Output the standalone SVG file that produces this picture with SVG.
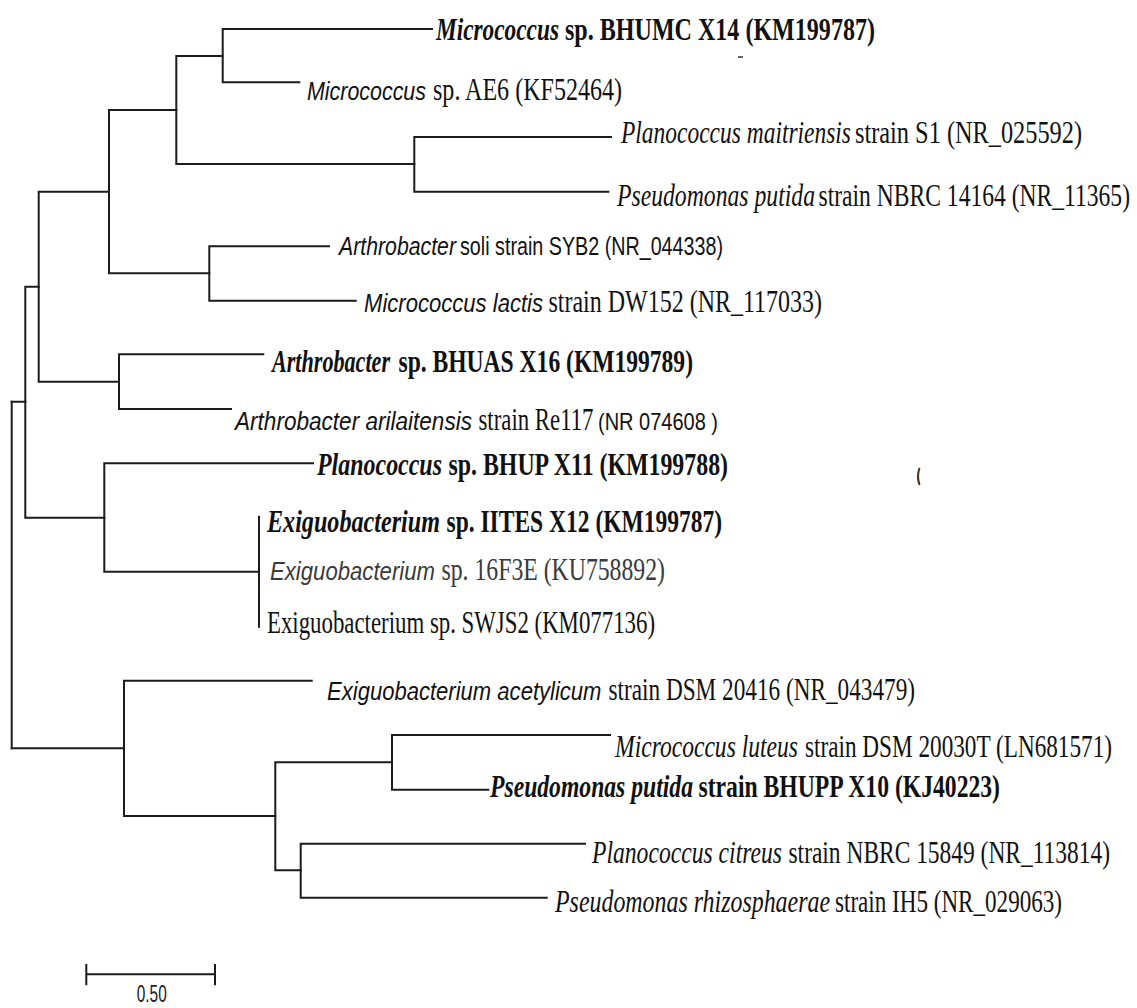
<svg xmlns="http://www.w3.org/2000/svg" width="1137" height="1008" viewBox="0 0 1137 1008" xml:space="preserve">
<style>
.br{fill:none;stroke:#1c1c1c;stroke-width:2;stroke-linecap:square}
.t{font-family:"Liberation Serif","Times New Roman",serif;font-size:24px;fill:#111}
.b{font-weight:bold}
.i{font-style:italic}
.s{font-family:"Liberation Sans",Arial,sans-serif;font-size:19.5px}
.sm{font-family:"Liberation Sans",Arial,sans-serif;font-size:17.5px}
.g{fill:#3a3a3a}
.sb{font-family:"Liberation Sans",Arial,sans-serif;font-size:18px;fill:#222}
</style>
<rect width="1137" height="1008" fill="#ffffff"/>
<g id="connectors">
<path class="br" d="M11.7 401.7 V748.3"/>
<path class="br" d="M11.7 401.7 H25.3 M11.7 748.3 H124"/>
<path class="br" d="M25.3 286.7 V517.7 M25.3 286.7 H38.7 M25.3 517.7 H104.3"/>
<path class="br" d="M38.7 191.7 V381.7 M38.7 191.7 H109 M38.7 381.7 H119"/>
<path class="br" d="M109 110 V273.3 M109 110 H176.3 M109 273.3 H209.3"/>
<path class="br" d="M176.3 56 V164 M176.3 56 H222.7 M176.3 164 H414.3"/>
<path class="br" d="M222.7 29 V82.3 M222.7 29 H432 M222.7 82.3 H299.3"/>
<path class="br" d="M414.3 137 V191.7 M414.3 137 H611 M414.3 191.7 H608.3"/>
<path class="br" d="M209.3 246.3 V300.7 M209.3 246.3 H329 M209.3 300.7 H355.7"/>
<path class="br" d="M119 354.3 V409 M119 354.3 H263.3 M119 409 H231"/>
<path class="br" d="M104.3 463.3 V571.7 M104.3 463.3 H313 M104.3 571.7 H259"/>
<path class="br" d="M259 516.7 V626.7"/>
<path class="br" d="M124 680.7 V816 M124 680.7 H311.7 M124 816 H275.3"/>
<path class="br" d="M275.3 762.3 V870.3 M275.3 762.3 H392 M275.3 870.3 H300.7"/>
<path class="br" d="M392 735 V789.7 M392 735 H610 M392 789.7 H488.3"/>
<path class="br" d="M300.7 843.7 V897.7 M300.7 843.7 H585 M300.7 897.7 H546.7"/>
</g>
<g id="leaf-micrococcus-bhumc-x14">
<text class="t b i" transform="matrix(1 0 0 1.33 436 40)" textLength="123" lengthAdjust="spacingAndGlyphs">Micrococcus</text>
<text class="t b" transform="matrix(1 0 0 1.33 565 40)" textLength="310" lengthAdjust="spacingAndGlyphs">sp. BHUMC X14 (KM199787)</text>
</g>
<g id="leaf-micrococcus-ae6">
<text class="t s i" transform="matrix(1 0 0 1.33 307 100)" textLength="119" lengthAdjust="spacingAndGlyphs">Micrococcus</text>
<text class="t" transform="matrix(1 0 0 1.33 433 100)" textLength="189" lengthAdjust="spacingAndGlyphs">sp. AE6 (KF52464)</text>
</g>
<g id="leaf-planococcus-maitriensis">
<text class="t i" transform="matrix(1 0 0 1.33 621 143)" textLength="230" lengthAdjust="spacingAndGlyphs">Planococcus maitriensis</text>
<text class="t" transform="matrix(1 0 0 1.33 855 143)" textLength="227" lengthAdjust="spacingAndGlyphs">strain S1  (NR_025592)</text>
</g>
<g id="leaf-pseudomonas-putida-nbrc">
<text class="t i" transform="matrix(1 0 0 1.33 617 206)" textLength="198" lengthAdjust="spacingAndGlyphs">Pseudomonas putida</text>
<text class="t" transform="matrix(1 0 0 1.33 818.5 206)" textLength="311.5" lengthAdjust="spacingAndGlyphs">strain NBRC 14164 (NR_11365)</text>
</g>
<g id="leaf-arthrobacter-soli">
<text class="t s i" transform="matrix(1 0 0 1.33 339 255)" textLength="117" lengthAdjust="spacingAndGlyphs">Arthrobacter</text>
<text class="t s" transform="matrix(1 0 0 1.33 460 255)" textLength="263" lengthAdjust="spacingAndGlyphs">soli strain SYB2  (NR_044338)</text>
</g>
<g id="leaf-micrococcus-lactis">
<text class="t s i" transform="matrix(1 0 0 1.33 364 311.5)" textLength="179" lengthAdjust="spacingAndGlyphs">Micrococcus lactis</text>
<text class="t" transform="matrix(1 0 0 1.33 548.5 311.5)" textLength="273.5" lengthAdjust="spacingAndGlyphs">strain DW152  (NR_117033)</text>
</g>
<g id="leaf-arthrobacter-bhuas-x16">
<text class="t b i" transform="matrix(1 0 0 1.33 272 371.5)" textLength="118" lengthAdjust="spacingAndGlyphs">Arthrobacter</text>
<text class="t b" transform="matrix(1 0 0 1.33 398.5 371.5)" textLength="294.5" lengthAdjust="spacingAndGlyphs">sp. BHUAS X16  (KM199789)</text>
</g>
<g id="leaf-arthrobacter-arilaitensis">
<text class="t s i" transform="matrix(1 0 0 1.33 235 430)" textLength="237" lengthAdjust="spacingAndGlyphs">Arthrobacter arilaitensis</text>
<text class="t" transform="matrix(1 0 0 1.33 478.5 430)" textLength="115" lengthAdjust="spacingAndGlyphs">strain Re117</text>
<text class="t sm" transform="matrix(1 0 0 1.33 598 430)" textLength="120" lengthAdjust="spacingAndGlyphs">(NR  074608 )</text>
</g>
<g id="leaf-planococcus-bhup-x11">
<text class="t b i" transform="matrix(1 0 0 1.33 317 475)" textLength="125" lengthAdjust="spacingAndGlyphs">Planococcus</text>
<text class="t b" transform="matrix(1 0 0 1.33 448.5 475)" textLength="279.5" lengthAdjust="spacingAndGlyphs">sp. BHUP X11 (KM199788)</text>
</g>
<g id="leaf-exiguobacterium-iites-x12">
<text class="t b i" transform="matrix(1 0 0 1.33 267 531.5)" textLength="173" lengthAdjust="spacingAndGlyphs">Exiguobacterium</text>
<text class="t b" transform="matrix(1 0 0 1.33 446.5 531.5)" textLength="275.5" lengthAdjust="spacingAndGlyphs">sp. IITES X12 (KM199787)</text>
</g>
<g id="leaf-exiguobacterium-16f3e">
<text class="t s i g" transform="matrix(1 0 0 1.33 270 580)" textLength="165" lengthAdjust="spacingAndGlyphs">Exiguobacterium</text>
<text class="t g" transform="matrix(1 0 0 1.33 441.5 580)" textLength="223.5" lengthAdjust="spacingAndGlyphs">sp. 16F3E (KU758892)</text>
</g>
<g id="leaf-exiguobacterium-swjs2">
<text class="t" transform="matrix(1 0 0 1.33 267 633)" textLength="388" lengthAdjust="spacingAndGlyphs">Exiguobacterium sp. SWJS2 (KM077136)</text>
</g>
<g id="leaf-exiguobacterium-acetylicum">
<text class="t s i" transform="matrix(1 0 0 1.33 327 700)" textLength="274.5" lengthAdjust="spacingAndGlyphs">Exiguobacterium acetylicum</text>
<text class="t" transform="matrix(1 0 0 1.33 608.5 700)" textLength="306.5" lengthAdjust="spacingAndGlyphs">strain DSM 20416 (NR_043479)</text>
</g>
<g id="leaf-micrococcus-luteus">
<text class="t i" transform="matrix(1 0 0 1.33 615 756.5)" textLength="183" lengthAdjust="spacingAndGlyphs">Micrococcus luteus</text>
<text class="t" transform="matrix(1 0 0 1.33 805 756.5)" textLength="307" lengthAdjust="spacingAndGlyphs">strain DSM 20030T (LN681571)</text>
</g>
<g id="leaf-pseudomonas-putida-bhupp-x10">
<text class="t b i" transform="matrix(1 0 0 1.33 490 796.5)" textLength="203" lengthAdjust="spacingAndGlyphs">Pseudomonas putida</text>
<text class="t b" transform="matrix(1 0 0 1.33 698.5 796.5)" textLength="301.5" lengthAdjust="spacingAndGlyphs">strain BHUPP X10 (KJ40223)</text>
</g>
<g id="leaf-planococcus-citreus">
<text class="t i" transform="matrix(1 0 0 1.33 592 863)" textLength="190" lengthAdjust="spacingAndGlyphs">Planococcus citreus</text>
<text class="t" transform="matrix(1 0 0 1.33 788.5 863)" textLength="321.5" lengthAdjust="spacingAndGlyphs">strain NBRC 15849 (NR_113814)</text>
</g>
<g id="leaf-pseudomonas-rhizosphaerae">
<text class="t i" transform="matrix(1 0 0 1.33 555 911.5)" textLength="275" lengthAdjust="spacingAndGlyphs">Pseudomonas rhizosphaerae</text>
<text class="t" transform="matrix(1 0 0 1.33 835 911.5)" textLength="227" lengthAdjust="spacingAndGlyphs">strain IH5 (NR_029063)</text>
</g>
<g id="marks">
<path d="M738 57 H743" stroke="#333" stroke-width="1.5"/>
<path d="M919.5 468 Q916.5 476.5 919.5 485" fill="none" stroke="#4a3018" stroke-width="2"/>
</g>
<g id="scale-bar">
<path class="br" d="M86.3 974.3 H215 M86.3 965 V984.3 M215 965 V984.3"/>
<text class="sb" transform="matrix(1 0 0 1.3 151.7 1002)" text-anchor="middle" textLength="30" lengthAdjust="spacingAndGlyphs">0.50</text>
</g>
</svg>
